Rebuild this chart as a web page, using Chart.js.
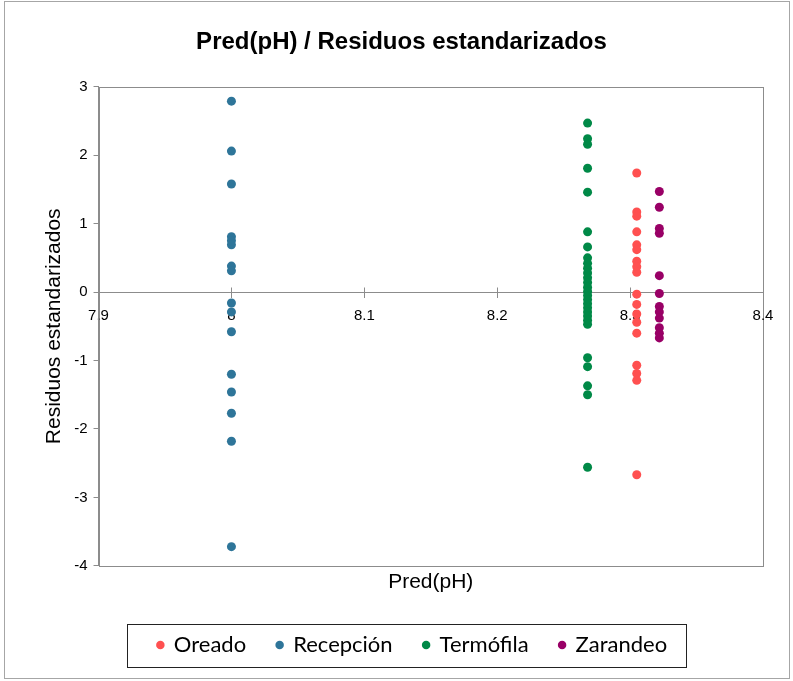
<!DOCTYPE html>
<html>
<head>
<meta charset="utf-8">
<script src="https://cdn.jsdelivr.net/npm/chart.js@4"></script>
<style>
  html, body { margin: 0; padding: 0; background: #fff; }
</style>
</head>
<body>
<canvas id="chart" width="793" height="681"></canvas>
<script>
// Series names, colours and the predicted pH of each group
const seriesNames = ['Oreado', 'Recepción', 'Termófila', 'Zarandeo'];
const seriesColors = ['#FF5050', '#2E7599', '#008947', '#990066'];
const predPH = [8.305, 8.0, 8.268, 8.322];

// Standardized residuals
const resOreado = [1.74, 1.17, 1.11, 0.88, 0.69, 0.62, 0.45, 0.37, 0.29, -0.03, -0.18, -0.32, -0.44, -0.60, -1.07, -1.19, -1.29, -2.67];
const resRecepcion = [2.79, 2.06, 1.58, 0.81, 0.75, 0.69, 0.38, 0.31, -0.16, -0.29, -0.58, -1.20, -1.46, -1.77, -2.18, -3.72];
const resTermofila = [2.47, 2.24, 2.16, 1.81, 1.46, 0.88, 0.66, 0.50, 0.42, 0.35, 0.28, 0.21, 0.14, 0.07, 0.01, -0.05, -0.11, -0.17, -0.23, -0.29, -0.35, -0.41, -0.47, -0.96, -1.09, -1.37, -1.50, -2.56];
const resZarandeo = [1.47, 1.24, 0.93, 0.86, 0.24, -0.02, -0.21, -0.29, -0.38, -0.52, -0.60, -0.67];

const residuals = [resOreado, resRecepcion, resTermofila, resZarandeo];

// Axis ranges and steps
const xMin = 7.9, xMax = 8.4, xStep = 0.1;
const yMin = -4, yMax = 3, yStep = 1;

const frameColor = '#8c8c8c';
const legendShift = 11; // legend sits a bit right of centre in the original

// Outer chart border, plot area frame, cross ticks and legend frame
const framesPlugin = {
  id: 'frames',
  afterUpdate(chart) {
    const lg = chart.legend;
    lg.left += legendShift;
    lg.right += legendShift;
    lg.legendHitBoxes.forEach(b => { b.left += legendShift; });
  },
  beforeDraw(chart) {
    const ctx = chart.ctx;
    ctx.save();
    ctx.fillStyle = '#fff';
    ctx.fillRect(0, 0, chart.width, chart.height);
    ctx.strokeStyle = '#a6a6a6';
    ctx.lineWidth = 1;
    ctx.strokeRect(4.5, 1.5, chart.width - 8, chart.height - 4);
    const a = chart.chartArea;
    ctx.strokeStyle = frameColor;
    ctx.strokeRect(Math.round(a.left) + 0.5, Math.round(a.top) + 0.5,
      Math.round(a.right - a.left), Math.round(a.bottom - a.top));
    // upper half of the cross tick marks on the horizontal axis
    const xs = chart.scales.x, ys = chart.scales.y;
    const y0 = Math.round(ys.getPixelForValue(0)) + 0.5;
    ctx.beginPath();
    xs.ticks.forEach(t => {
      const px = Math.round(xs.getPixelForValue(t.value)) + 0.5;
      ctx.moveTo(px, y0 - 5);
      ctx.lineTo(px, y0);
    });
    ctx.stroke();
    ctx.restore();
  },
  afterDraw(chart) {
    const boxes = chart.legend.legendHitBoxes;
    if (!boxes || !boxes.length) return;
    const first = boxes[0], last = boxes[boxes.length - 1];
    const cy = first.top + first.height / 2;
    const left = Math.round(first.left - 31);
    const ctx = chart.ctx;
    ctx.save();
    ctx.strokeStyle = '#222';
    ctx.lineWidth = 1;
    ctx.strokeRect(left + 0.5, Math.round(cy - 21) + 0.5,
      Math.round(last.left + last.width + 19) - left, 43);
    ctx.restore();
  }
};

const datasets = seriesNames.map((name, i) => ({
  label: name,
  data: residuals[i].map(r => ({ x: predPH[i], y: r })),
  backgroundColor: seriesColors[i],
  borderColor: seriesColors[i],
  pointRadius: 4.5,
  pointHoverRadius: 4.5,
  pointBorderWidth: 0,
  xAxisID: 'x',
  yAxisID: 'y'
}));

new Chart(document.getElementById('chart'), {
  type: 'scatter',
  data: { datasets: datasets },
  options: {
    responsive: false,
    animation: false,
    layout: { padding: { top: 0, left: 40, right: 30, bottom: 15 } },
    scales: {
      x: {
        type: 'linear',
        position: { y: 0 },
        min: xMin,
        max: xMax,
        ticks: {
          stepSize: xStep,
          color: '#000',
          padding: 10,
          font: { family: 'Liberation Sans', size: 15 },
          callback: v => String(Number(v.toFixed(1)))
        },
        grid: { drawOnChartArea: false, drawTicks: true, tickLength: 5, color: frameColor },
        border: { display: true, color: frameColor }
      },
      xTitle: {
        type: 'linear',
        position: 'bottom',
        ticks: { display: false },
        grid: { display: false, drawTicks: false },
        border: { display: false },
        title: {
          display: true,
          text: 'Pred(pH)',
          color: '#000',
          padding: { top: 4, bottom: 8 },
          font: { family: 'Liberation Sans', size: 21 }
        }
      },
      y: {
        type: 'linear',
        position: 'left',
        min: yMin,
        max: yMax,
        ticks: {
          stepSize: yStep,
          color: '#000',
          padding: 6,
          font: { family: 'Liberation Sans', size: 15 }
        },
        grid: { drawOnChartArea: false, drawTicks: true, tickLength: 5, color: frameColor },
        border: { display: true, color: frameColor },
        title: {
          display: true,
          text: 'Residuos estandarizados',
          color: '#000',
          padding: { top: 2, bottom: 1 },
          font: { family: 'Liberation Sans', size: 21 }
        }
      }
    },
    plugins: {
      title: {
        display: true,
        text: 'Pred(pH) / Residuos estandarizados',
        color: '#000',
        padding: { top: 28, bottom: 30 },
        font: { family: 'Liberation Sans', size: 24, weight: 'bold' }
      },
      legend: {
        display: true,
        position: 'bottom',
        labels: {
          usePointStyle: true,
          pointStyle: 'circle',
          boxWidth: 5,
          boxHeight: 6,
          padding: 31,
          color: '#000',
          font: { family: 'Lato', size: 22 }
        }
      },
      tooltip: { enabled: false }
    }
  },
  plugins: [framesPlugin]
});
</script>
</body>
</html>
